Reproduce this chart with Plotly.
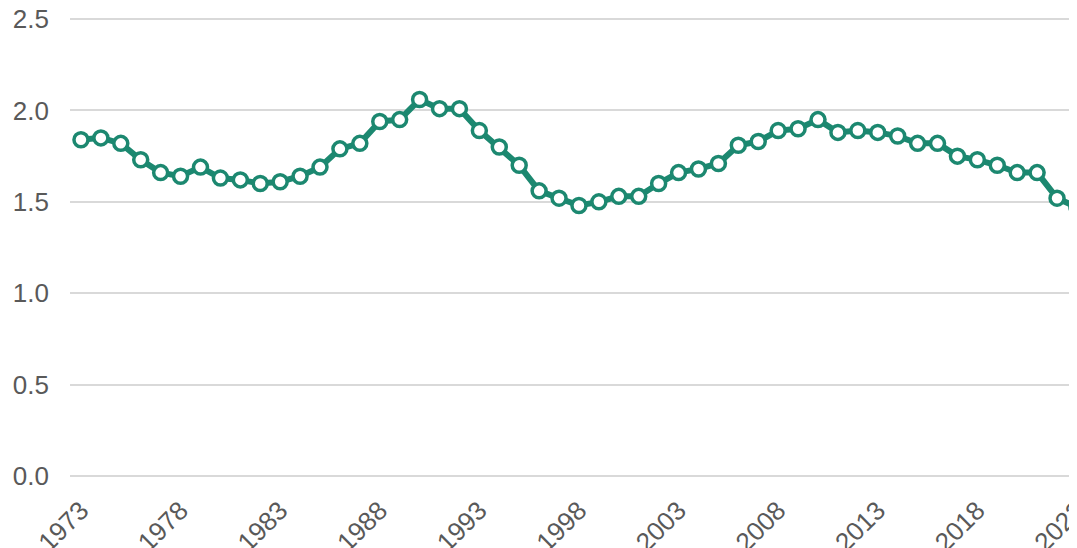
import plotly.graph_objects as go

years = list(range(1973, 2024))
values = [1.84, 1.85, 1.82, 1.73, 1.66, 1.64, 1.69, 1.63, 1.62, 1.60,
          1.61, 1.64, 1.69, 1.79, 1.82, 1.94, 1.95, 2.06, 2.01, 2.01,
          1.89, 1.80, 1.70, 1.56, 1.52, 1.48, 1.50, 1.53, 1.53, 1.60,
          1.66, 1.68, 1.71, 1.81, 1.83, 1.89, 1.90, 1.95, 1.88, 1.89,
          1.88, 1.86, 1.82, 1.82, 1.75, 1.73, 1.70, 1.66, 1.66, 1.52,
          1.47]
x_ticks = list(range(1973, 2024, 5))
y_ticks = [0.0, 0.5, 1.0, 1.5, 2.0, 2.5]

teal = "#1c8870"
grey = "#595959"

fig = go.Figure(go.Scatter(
    x=years, y=values, mode="lines+markers",
    line=dict(color=teal, width=6),
    marker=dict(size=14, color="white", line=dict(color=teal, width=3.5)),
    hoverinfo="x+y",
))

# page body adds an 8px offset, margins compensate for it
fig.update_layout(
    width=1077, height=548,
    margin=dict(l=62, r=8, t=2, b=71),
    paper_bgcolor="white", plot_bgcolor="white",
    showlegend=False,
    font=dict(family="Liberation Sans, Arial, sans-serif", size=26, color=grey),
)
fig.update_xaxes(
    range=[1972.45, 2023.002], tickvals=x_ticks, ticktext=[str(v) for v in x_ticks],
    tickangle=-45, showgrid=False, zeroline=False, showline=False,
    ticks="", ticklabelstandoff=4, automargin=False, ticklabeloverflow="allow",
    tickfont=dict(size=26, color=grey),
)
fig.update_yaxes(
    range=[-0.05, 2.55], tickvals=y_ticks, ticktext=["%.1f" % v for v in y_ticks],
    showgrid=True, gridcolor="#d9d9d9", gridwidth=1.5, zeroline=False,
    showline=False, ticks="", ticklabelstandoff=20, automargin=False,
    ticklabeloverflow="allow",
    tickfont=dict(size=26, color=grey),
)

fig.write_html("out.html")
